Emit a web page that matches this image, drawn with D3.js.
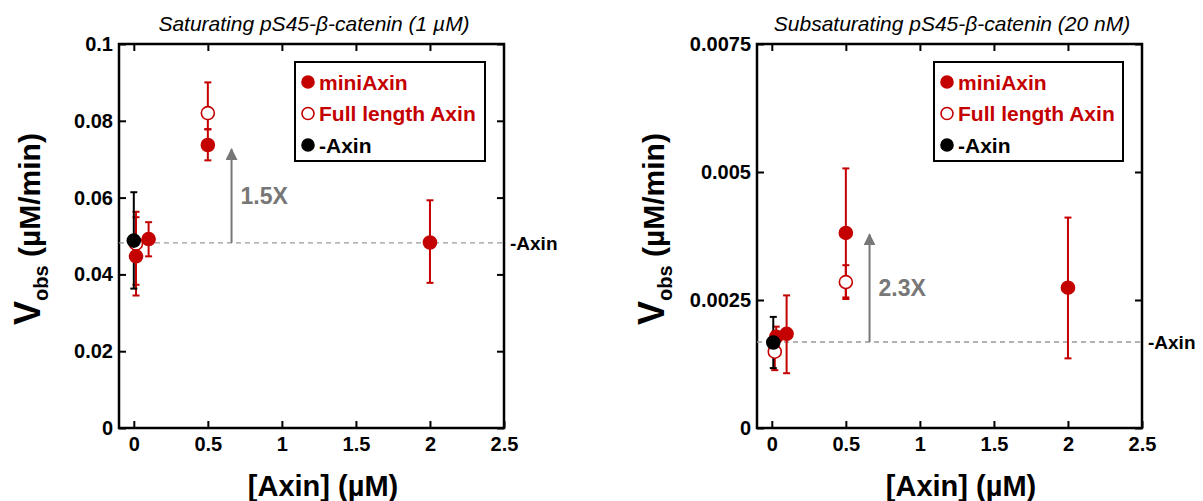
<!DOCTYPE html>
<html>
<head>
<meta charset="utf-8">
<script src="https://cdn.jsdelivr.net/npm/d3@7"></script>
<style>
  body { margin: 0; background: #fff; }
  svg text { font-family: "Liberation Sans", Arial, Helvetica, sans-serif; }
</style>
</head>
<body>
<div id="plot"></div>
<script>
// x ticks shared by both panels
const xTicks = [0, 0.5, 1, 1.5, 2, 2.5];

// saturating panel (1 uM)
const satTicks = [0, 0.02, 0.04, 0.06, 0.08, 0.1];
const satMiniX = [0.015, 0.1, 0.5, 2];
const satMiniY = [0.0447, 0.0492, 0.0737, 0.0483];
const satMiniLo = [0.0345, 0.0447, 0.0697, 0.0378];
const satMiniHi = [0.0563, 0.0536, 0.0778, 0.0593];
const satFullX = [0.015, 0.5];
const satFullY = [0.0480, 0.0820];
const satFullLo = [0.0373, 0.0778];
const satFullHi = [0.0549, 0.0900];
const satNoX = [0];
const satNoY = [0.0488];
const satNoLo = [0.0363];
const satNoHi = [0.0614];
const satBase = 0.0482;
const satArrowTop = 0.0726;
const satFold = "1.5X";

// subsaturating panel (20 nM)
const subTicks = [0, 0.0025, 0.005, 0.0075];
const subMiniX = [0.03, 0.1, 0.5, 2];
const subMiniY = [0.00178, 0.00184, 0.00381, 0.00274];
const subMiniLo = [0.00150, 0.00107, 0.00252, 0.00136];
const subMiniHi = [0.00198, 0.00259, 0.00507, 0.00411];
const subFullX = [0.02, 0.5];
const subFullY = [0.00149, 0.00285];
const subFullLo = [0.00113, 0.00255];
const subFullHi = [0.00188, 0.00318];
const subNoX = [0.01];
const subNoY = [0.00167];
const subNoLo = [0.00117];
const subNoHi = [0.00217];
const subBase = 0.00168;
const subArrowTop = 0.00378;
const subFold = "2.3X";

const legendNames = ["miniAxin", "Full length Axin", "-Axin"];
const red = "#c40000";
const grey = "#777";

function zipSeries(xs, ys, lo, hi) {
  return xs.map((x, i) => ({ x: x, y: ys[i], lo: lo[i], hi: hi[i] }));
}

const panels = [
  {
    title: "Saturating pS45-\u03b2-catenin (1 \u00b5M)",
    left: 119, labelX: 40, legendLeft: 295, legendRight: 485,
    yTicks: satTicks, yMax: 0.1,
    mini: zipSeries(satMiniX, satMiniY, satMiniLo, satMiniHi),
    full: zipSeries(satFullX, satFullY, satFullLo, satFullHi),
    none: zipSeries(satNoX, satNoY, satNoLo, satNoHi),
    base: satBase, arrowTop: satArrowTop, fold: satFold
  },
  {
    title: "Subsaturating pS45-\u03b2-catenin (20 nM)",
    left: 757, labelX: 664, legendLeft: 934, legendRight: 1123,
    yTicks: subTicks, yMax: 0.0075,
    mini: zipSeries(subMiniX, subMiniY, subMiniLo, subMiniHi),
    full: zipSeries(subFullX, subFullY, subFullLo, subFullHi),
    none: zipSeries(subNoX, subNoY, subNoLo, subNoHi),
    base: subBase, arrowTop: subArrowTop, fold: subFold
  }
];

const width = 1203, height = 501;
const plotW = 385, plotTop = 44, plotBottom = 428;

const svg = d3.select("#plot").append("svg")
  .attr("width", width)
  .attr("height", height);

svg.append("defs").append("marker")
  .attr("id", "arrowhead")
  .attr("viewBox", "0 0 10 10")
  .attr("refX", 9).attr("refY", 5)
  .attr("markerWidth", 6).attr("markerHeight", 6)
  .attr("markerUnits", "strokeWidth")
  .attr("orient", "auto")
  .append("path")
  .attr("d", "M0,0 L10,5 L0,10 Z")
  .attr("fill", grey);

panels.forEach(function(p) {
  const x = d3.scaleLinear().domain([-0.1, 2.5]).range([p.left, p.left + plotW]);
  const y = d3.scaleLinear().domain([0, p.yMax]).range([plotBottom, plotTop]);
  const g = svg.append("g");
  const fmt = d => String(d);

  // axes, ticks pointing inward
  const ax = [
    [d3.axisBottom(x).tickValues(xTicks).tickFormat(fmt), `translate(0,${plotBottom})`, 9],
    [d3.axisTop(x).tickValues(xTicks.slice(0, -1)).tickFormat(""), `translate(0,${plotTop})`, 9],
    [d3.axisLeft(y).tickValues(p.yTicks).tickFormat(fmt), `translate(${p.left},0)`, 6],
    [d3.axisRight(y).tickValues(p.yTicks).tickFormat(""), `translate(${p.left + plotW},0)`, 6]
  ];
  ax.forEach(function(a) {
    const sel = g.append("g").attr("transform", a[1])
      .call(a[0].tickSizeInner(-7).tickSizeOuter(0).tickPadding(a[2]));
    sel.select(".domain").remove();
    sel.selectAll(".tick line").attr("stroke", "#000").attr("stroke-width", 2);
    sel.selectAll(".tick text")
      .attr("fill", "#000")
      .style("font-size", "20px")
      .style("font-weight", "bold");
  });

  g.append("rect")
    .attr("x", p.left).attr("y", plotTop)
    .attr("width", plotW).attr("height", plotBottom - plotTop)
    .attr("fill", "none").attr("stroke", "#000").attr("stroke-width", 2.5);

  // title
  g.append("text")
    .attr("x", p.left + 195).attr("y", 31)
    .attr("text-anchor", "middle")
    .style("font-size", "21px").style("font-style", "italic")
    .text(p.title);

  // axis labels
  g.append("text")
    .attr("x", p.left + 204).attr("y", 496)
    .attr("text-anchor", "middle")
    .style("font-size", "29px").style("font-weight", "bold")
    .text("[Axin] (\u00b5M)");

  const yl = g.append("text")
    .attr("transform", `translate(${p.labelX},${229}) rotate(-90)`)
    .attr("text-anchor", "middle")
    .style("font-weight", "bold");
  yl.append("tspan").style("font-size", "36px").text("V");
  yl.append("tspan").style("font-size", "20px").attr("dy", 8).text("obs");
  yl.append("tspan").style("font-size", "30px").attr("dy", -8).text(" (\u00b5M/min)");

  // baseline for -Axin
  g.append("line")
    .attr("x1", p.left).attr("x2", p.left + plotW)
    .attr("y1", y(p.base)).attr("y2", y(p.base))
    .attr("stroke", "#999").attr("stroke-width", 1.3)
    .attr("stroke-dasharray", "5,4");
  g.append("text")
    .attr("x", p.left + plotW + 6).attr("y", y(p.base) + 7)
    .style("font-size", "19px").style("font-weight", "bold")
    .text("-Axin");

  // fold arrow
  g.append("line")
    .attr("x1", x(0.66)).attr("x2", x(0.66))
    .attr("y1", y(p.base)).attr("y2", y(p.arrowTop))
    .attr("stroke", grey).attr("stroke-width", 2)
    .attr("marker-end", "url(#arrowhead)");
  g.append("text")
    .attr("x", x(0.66) + 9).attr("y", (y(p.base) + y(p.arrowTop)) / 2 + 8)
    .attr("fill", grey)
    .style("font-size", "23px").style("font-weight", "bold")
    .text(p.fold);

  // error bars
  function errBars(data, color) {
    const e = g.append("g").attr("stroke", color).attr("stroke-width", 2);
    e.selectAll(".v").data(data).join("line")
      .attr("x1", d => x(d.x)).attr("x2", d => x(d.x))
      .attr("y1", d => y(d.lo)).attr("y2", d => y(d.hi));
    e.selectAll(".hi").data(data).join("line")
      .attr("x1", d => x(d.x) - 3.5).attr("x2", d => x(d.x) + 3.5)
      .attr("y1", d => y(d.hi)).attr("y2", d => y(d.hi));
    e.selectAll(".lo").data(data).join("line")
      .attr("x1", d => x(d.x) - 3.5).attr("x2", d => x(d.x) + 3.5)
      .attr("y1", d => y(d.lo)).attr("y2", d => y(d.lo));
  }
  errBars(p.full, red);
  errBars(p.mini, red);
  errBars(p.none, "#000");

  function dots(data, fill, stroke) {
    g.append("g").selectAll("circle").data(data).join("circle")
      .attr("cx", d => x(d.x)).attr("cy", d => y(d.y))
      .attr("r", 6.5)
      .attr("fill", fill).attr("stroke", stroke).attr("stroke-width", 1.6);
  }
  dots(p.full, "#fff", red);
  dots(p.mini, red, red);
  dots(p.none, "#000", "#000");

  // legend
  const lg = g.append("g");
  lg.append("rect")
    .attr("x", p.legendLeft).attr("y", 62)
    .attr("width", p.legendRight - p.legendLeft).attr("height", 99)
    .attr("fill", "#fff").attr("stroke", "#000").attr("stroke-width", 2);
  const ly = d3.scalePoint().domain(legendNames).range([82, 145]);
  const lfill = { "miniAxin": red, "Full length Axin": "#fff", "-Axin": "#000" };
  const lstroke = { "miniAxin": red, "Full length Axin": red, "-Axin": "#000" };
  lg.selectAll("circle").data(legendNames).join("circle")
    .attr("cx", p.legendLeft + 13).attr("cy", d => ly(d))
    .attr("r", 6)
    .attr("fill", d => lfill[d]).attr("stroke", d => lstroke[d]).attr("stroke-width", 1.6);
  lg.selectAll("text").data(legendNames).join("text")
    .attr("x", p.legendLeft + 24).attr("y", d => ly(d) + 7.5)
    .attr("fill", d => lstroke[d])
    .style("font-size", "21px").style("font-weight", "bold")
    .text(d => d);
});
</script>
</body>
</html>
